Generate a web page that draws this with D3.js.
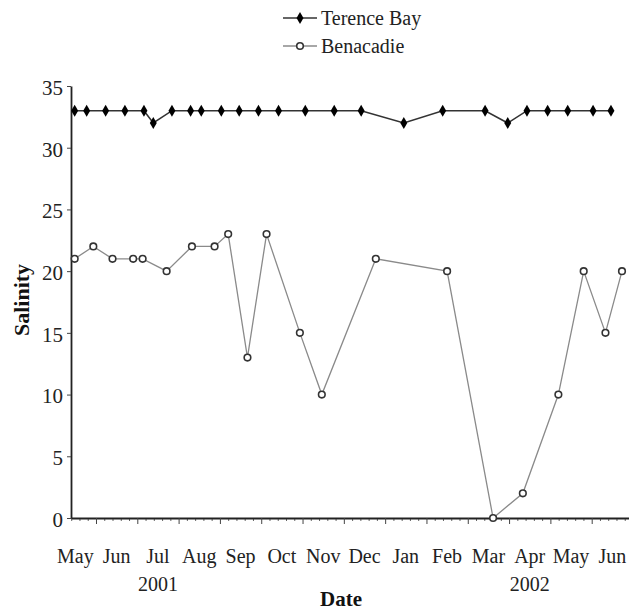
<!DOCTYPE html>
<html>
<head>
<meta charset="utf-8">
<script src="https://cdn.jsdelivr.net/npm/d3@7"></script>
<style>
  body { margin: 0; background: #fff; }
  svg { display: block; }
  text { font-family: "Liberation Serif", "Times New Roman", serif; }
</style>
</head>
<body>
<svg id="chart" width="629" height="610"></svg>
<script>
// ---- Data ----
const terenceDates = ["2001-05-16","2001-05-25","2001-06-08","2001-06-22","2001-07-06","2001-07-13","2001-07-27",
  "2001-08-10","2001-08-18","2001-09-02","2001-09-15","2001-09-29","2001-10-14","2001-11-03","2001-11-24",
  "2001-12-14","2002-01-15","2002-02-12","2002-03-14","2002-03-31","2002-04-14","2002-04-29","2002-05-14",
  "2002-06-02","2002-06-15"];
const terenceValues = [33,33,33,33,33,32,33,33,33,33,33,33,33,33,33,33,32,33,33,32,33,33,33,33,33];

const benacadieDates = ["2001-05-16","2001-05-30","2001-06-13","2001-06-28","2001-07-05","2001-07-23","2001-08-11",
  "2001-08-28","2001-09-07","2001-09-21","2001-10-05","2001-10-30","2001-11-15","2001-12-25","2002-02-15",
  "2002-03-20","2002-04-11","2002-05-07","2002-05-26","2002-06-11","2002-06-23"];
const benacadieValues = [21,22,21,21,21,20,22,22,23,13,23,15,10,21,20,0,2,10,20,15,20];

const monthLabels = ["May","Jun","Jul","Aug","Sep","Oct","Nov","Dec","Jan","Feb","Mar","Apr","May","Jun"];
const yearLabels = [{label:"2001", month:2}, {label:"2002", month:11}];
const yTicks = [0,5,10,15,20,25,30,35];
const seriesNames = ["Terence Bay","Benacadie"];

const SERIF = "'Liberation Serif', 'Times New Roman', serif";

// ---- Helpers: convert date to fractional month index (0 = 1 May 2001) ----
function monthIndex(s) {
  const [y, m, d] = s.split("-").map(Number);
  const dim = new Date(y, m, 0).getDate();
  return (y - 2001) * 12 + (m - 5) + (d - 1) / dim;
}

const svg = d3.select("#chart");
const x = d3.scaleLinear().domain([0.395, 14]).range([71, 633]);
const y = d3.scaleLinear().domain([0, 35]).range([518, 86]);

// ---- Axes ----
const majors = d3.range(1, 14);
const minors = [];
for (let m = 0; m < 14; m++) for (let k = 1; k < 5; k++) { const v = m + k / 5; if (v >= 0.395) minors.push(v); }

const gx = svg.append("g").attr("transform", "translate(0,518)");
gx.call(d3.axisBottom(x).tickValues(minors).tickSize(3).tickFormat(""))
  .call(g => g.select(".domain").remove());
gx.selectAll(".tick line").attr("stroke", "#666").attr("stroke-width", 1);
const gx2 = svg.append("g").attr("transform", "translate(0,518)");
gx2.call(d3.axisBottom(x).tickValues(majors).tickSize(6).tickSizeOuter(0).tickFormat(""));
gx2.select(".domain").attr("stroke", "#222").attr("stroke-width", 1.8);
gx2.selectAll(".tick line").attr("stroke", "#444").attr("stroke-width", 1);

svg.append("g").selectAll("text").data(monthLabels).join("text")
  .attr("x", (d, i) => x(i + 0.5)).attr("y", 563)
  .attr("text-anchor", "middle").attr("font-size", 20).attr("fill", "#222")
  .attr("font-family", SERIF).text(d => d);
svg.append("g").selectAll("text").data(yearLabels).join("text")
  .attr("x", d => x(d.month + 0.5)).attr("y", 591)
  .attr("text-anchor", "middle").attr("font-size", 20).attr("fill", "#222")
  .attr("font-family", SERIF).text(d => d.label);

const gy = svg.append("g").attr("transform", "translate(71,0)");
gy.call(d3.axisLeft(y).tickValues(yTicks).tickSize(4).tickSizeOuter(0).tickPadding(4));
gy.attr("font-family", SERIF);
gy.select(".domain").attr("stroke", "#222").attr("stroke-width", 1.8);
gy.selectAll(".tick line").attr("stroke", "#444");
gy.selectAll(".tick text").attr("font-size", 21).attr("fill", "#222")
  .attr("font-family", SERIF).attr("dy", "0.4em");

// axis titles
svg.append("text").attr("x", 341).attr("y", 606).attr("text-anchor", "middle")
  .attr("font-family", SERIF)
  .attr("font-size", 21).attr("font-weight", "bold").attr("fill", "#111").text("Date");
svg.append("text").attr("transform", "translate(29,300) rotate(-90)").attr("text-anchor", "middle")
  .attr("font-family", SERIF)
  .attr("font-size", 22).attr("font-weight", "bold").attr("fill", "#111").text("Salinity");

// ---- Series ----
const tData = terenceDates.map((d, i) => ({m: monthIndex(d), v: terenceValues[i]}));
const bData = benacadieDates.map((d, i) => ({m: monthIndex(d), v: benacadieValues[i]}));
const line = d3.line().x(d => x(d.m)).y(d => y(d.v));

svg.append("path").datum(bData).attr("d", line)
  .attr("fill", "none").attr("stroke", "#8a8a8a").attr("stroke-width", 1.3);
svg.append("path").datum(tData).attr("d", line)
  .attr("fill", "none").attr("stroke", "#333").attr("stroke-width", 1.6);

const diamond = d3.symbol().type(d3.symbolDiamond).size(42);
svg.append("g").selectAll("path").data(tData).join("path")
  .attr("transform", d => `translate(${x(d.m)},${y(d.v)})`)
  .attr("d", diamond).attr("fill", "#000");

svg.append("g").selectAll("circle").data(bData).join("circle")
  .attr("cx", d => x(d.m)).attr("cy", d => y(d.v)).attr("r", 3.3)
  .attr("fill", "#fff").attr("stroke", "#333").attr("stroke-width", 1.6);

// ---- Legend ----
const leg = svg.append("g");
const legRows = [{name: seriesNames[0], y: 18}, {name: seriesNames[1], y: 46}];
leg.append("line").attr("x1", 283).attr("x2", 317).attr("y1", legRows[0].y).attr("y2", legRows[0].y)
  .attr("stroke", "#333").attr("stroke-width", 1.6);
leg.append("path").attr("transform", `translate(300,${legRows[0].y})`).attr("d", diamond).attr("fill", "#000");
leg.append("line").attr("x1", 283).attr("x2", 317).attr("y1", legRows[1].y).attr("y2", legRows[1].y)
  .attr("stroke", "#8a8a8a").attr("stroke-width", 1.3);
leg.append("circle").attr("cx", 300).attr("cy", legRows[1].y).attr("r", 3.3)
  .attr("fill", "#fff").attr("stroke", "#333").attr("stroke-width", 1.6);
leg.selectAll("text").data(legRows).join("text")
  .attr("x", 321).attr("y", d => d.y + 7).attr("font-size", 20).attr("fill", "#222")
  .attr("font-family", SERIF).text(d => d.name);
</script>
</body>
</html>
